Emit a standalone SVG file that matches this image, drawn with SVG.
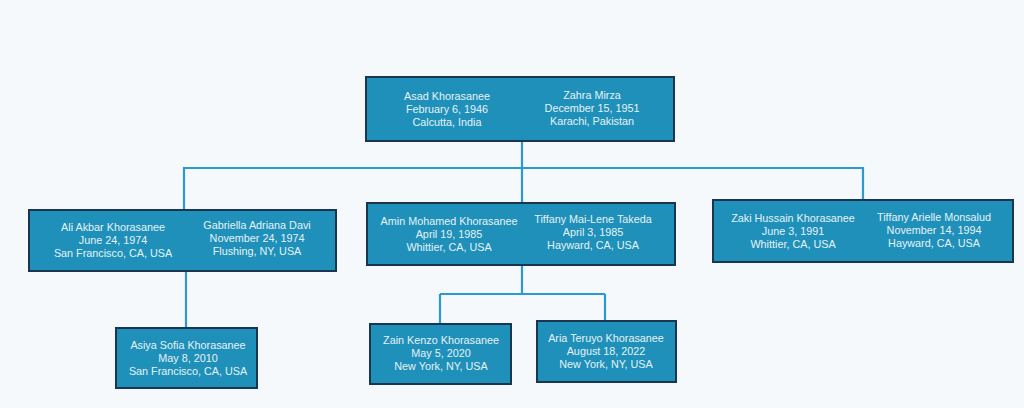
<svg xmlns="http://www.w3.org/2000/svg" width="1024" height="408" viewBox="0 0 1024 408">
<style>
.box{fill:#1f90b9;stroke:#1a3550;stroke-width:2}
.t{font-family:"Liberation Sans",Arial,sans-serif;font-size:10.8px;fill:#e6f2f6;text-anchor:middle}
.c{fill:none;stroke:#2a9ad0;stroke-width:2.2}
</style>
<rect width="1024" height="408" fill="#f5f9fb"/>
<g id="connectors">
<path class="c" d="M522 141 V168 M184 210 V168 H863 V200 M522 168 V203"/>
<path class="c" d="M186 271 V328"/>
<path class="c" d="M522 265 V294 M440 294 H605 M440 294 V324 M605 294 V321"/>
</g>
<g id="n-asad-zahra">
<rect class="box" x="366" y="77" width="308" height="64"/>
<text class="t" x="447" y="100">Asad Khorasanee</text>
<text class="t" x="447" y="113">February 6, 1946</text>
<text class="t" x="447" y="126">Calcutta, India</text>
<text class="t" x="592" y="99">Zahra Mirza</text>
<text class="t" x="592" y="112">December 15, 1951</text>
<text class="t" x="592" y="125">Karachi, Pakistan</text>
</g>
<g id="n-ali-gabriella">
<rect class="box" x="29" y="210" width="307" height="61"/>
<text class="t" x="113" y="231">Ali Akbar Khorasanee</text>
<text class="t" x="113" y="244">June 24, 1974</text>
<text class="t" x="113" y="257">San Francisco, CA, USA</text>
<text class="t" x="257" y="229">Gabriella Adriana Davi</text>
<text class="t" x="257" y="242">November 24, 1974</text>
<text class="t" x="257" y="255">Flushing, NY, USA</text>
</g>
<g id="n-amin-tiffany">
<rect class="box" x="367" y="203" width="308" height="62"/>
<text class="t" x="449" y="225">Amin Mohamed Khorasanee</text>
<text class="t" x="449" y="238">April 19, 1985</text>
<text class="t" x="449" y="251">Whittier, CA, USA</text>
<text class="t" x="593" y="223">Tiffany Mai-Lene Takeda</text>
<text class="t" x="593" y="236">April 3, 1985</text>
<text class="t" x="593" y="249">Hayward, CA, USA</text>
</g>
<g id="n-zaki-tiffany">
<rect class="box" x="713" y="200" width="300" height="62"/>
<text class="t" x="793" y="222">Zaki Hussain Khorasanee</text>
<text class="t" x="793" y="235">June 3, 1991</text>
<text class="t" x="793" y="248">Whittier, CA, USA</text>
<text class="t" x="934" y="221">Tiffany Arielle Monsalud</text>
<text class="t" x="934" y="234">November 14, 1994</text>
<text class="t" x="934" y="247">Hayward, CA, USA</text>
</g>
<g id="n-asiya">
<rect class="box" x="116" y="328" width="141" height="60"/>
<text class="t" x="188" y="349">Asiya Sofia Khorasanee</text>
<text class="t" x="188" y="362">May 8, 2010</text>
<text class="t" x="188" y="375">San Francisco, CA, USA</text>
</g>
<g id="n-zain">
<rect class="box" x="370" y="324" width="141" height="60"/>
<text class="t" x="441" y="344">Zain Kenzo Khorasanee</text>
<text class="t" x="441" y="357">May 5, 2020</text>
<text class="t" x="441" y="370">New York, NY, USA</text>
</g>
<g id="n-aria">
<rect class="box" x="537" y="321" width="139" height="61"/>
<text class="t" x="606" y="342">Aria Teruyo Khorasanee</text>
<text class="t" x="606" y="355">August 18, 2022</text>
<text class="t" x="606" y="368">New York, NY, USA</text>
</g>
</svg>
